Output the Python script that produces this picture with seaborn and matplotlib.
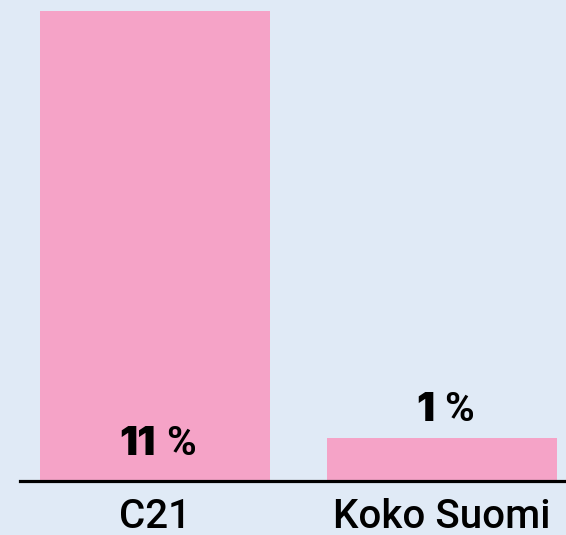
import matplotlib
matplotlib.use("Agg")
import matplotlib.pyplot as plt
from matplotlib.offsetbox import TextArea, HPacker, AnnotationBbox
import seaborn as sns
import pandas as pd

categories = ["C21", "Koko Suomi"]
values = [11, 1]
labels = ["11", "1"]

BG = "#e0eaf6"
BAR = "#f5a3c7"

sns.set_theme(style="white")
plt.rcParams["font.family"] = ["Roboto", "DejaVu Sans"]

fig = plt.figure(figsize=(5.66, 5.35), dpi=100, facecolor=BG)
W, H = 566, 535
ax = fig.add_axes([20 / W, (H - 481) / H, (566 - 20) / W, 481 / H])
ax.set_facecolor(BG)

df = pd.DataFrame({"cat": categories, "val": values})
sns.barplot(data=df, x="cat", y="val", hue="cat", palette=[BAR, BAR],
            width=0.8, legend=False, ax=ax, saturation=1, linewidth=0)

ax.set_xlim(-0.470, 1.432)
ax.set_ylim(0, 11 * 481 / 470)
ax.set_xlabel("")
ax.set_ylabel("")
ax.set_yticks([])
for s in ["top", "left", "right"]:
    ax.spines[s].set_visible(False)
ax.spines["bottom"].set_color("black")
ax.spines["bottom"].set_linewidth(2.3)
ax.tick_params(axis="x", length=0, pad=12, labelsize=29, labelcolor="black")
for t in ax.get_xticklabels():
    t.set_fontweight("medium")

numprops = dict(family=["Inter", "Roboto", "DejaVu Sans"], fontweight="black", fontsize=29, color="black")
pctprops = dict(family=["Roboto", "DejaVu Sans"], fontweight="bold", fontsize=29, color="black")

ymax = max(values)
for i, (v, lab) in enumerate(zip(values, labels)):
    if v > 0.5 * ymax:
        y, dy = 0, 13
    else:
        y, dy = v, 7
    box = HPacker(children=[TextArea(lab, textprops=numprops),
                            TextArea("%", textprops=pctprops)],
                  align="baseline", pad=0, sep=7)
    ab = AnnotationBbox(box, (i, y), xybox=(2, dy), xycoords="data",
                        boxcoords="offset points", box_alignment=(0.5, 0),
                        frameon=False, pad=0)
    ax.add_artist(ab)

fig.savefig("out.png", dpi=100, facecolor=BG)
